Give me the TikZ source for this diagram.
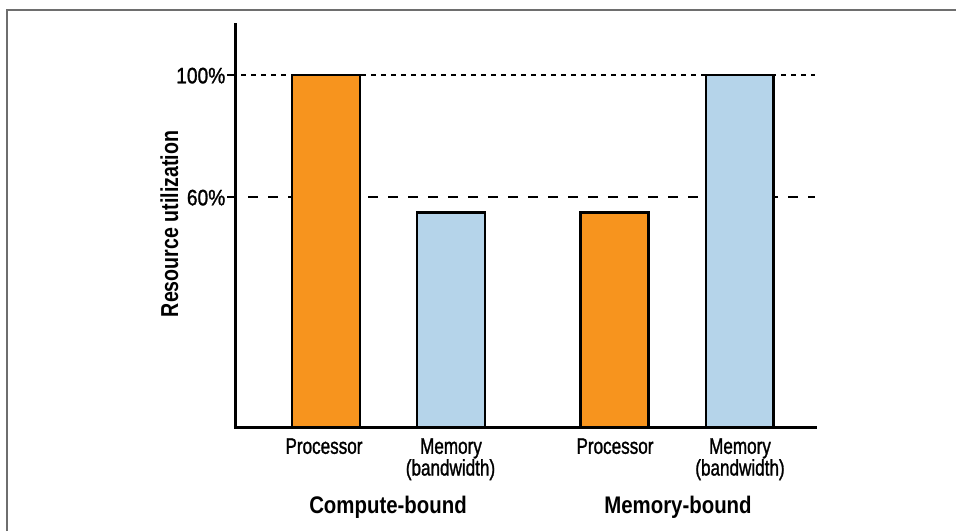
\documentclass[tikz,border=0pt]{standalone}
\usepackage{fontspec}
\setmainfont{Liberation Sans}[FakeStretch=0.8]
\newfontfamily\lblfont{Liberation Sans}[FakeStretch=0.76,FakeBold=1.2]
\newfontfamily\numfont{Liberation Sans}[FakeStretch=0.86,FakeBold=1.2]
\newfontfamily\grpfont{Liberation Sans}[FakeStretch=0.85]
\definecolor{barorange}{HTML}{F7941E}
\definecolor{barblue}{HTML}{B5D4EA}
\definecolor{framegray}{HTML}{6E6E6E}
\begin{document}
\begin{tikzpicture}[x=1pt,y=-1pt,
  bar/.style={draw=black,line width=2.2pt},
  axisline/.style={draw=black,line width=3.5pt},
  lbl/.style={font=\lblfont\fontsize{22.5}{24}\selectfont,inner sep=0pt,anchor=base},
  num/.style={font=\numfont\fontsize{22.3}{24}\selectfont,inner sep=0pt,anchor=base east},
  grp/.style={font=\grpfont\fontsize{24}{26}\selectfont\bfseries,inner sep=0pt,anchor=base},
  refdot/.style={line width=2pt,dash pattern=on 5pt off 5pt},
  refdash/.style={line width=2.4pt,dash pattern=on 10pt off 10pt}]
\useasboundingbox (0,0) rectangle (956,531);
% frame
\draw[framegray,line width=2pt] (6.5,531) -- (6.5,9.5) -- (956,9.5);
% reference lines
\coordinate (d1) at (241,75);
\coordinate (d2) at (815,75);
\coordinate (h1) at (248,197);
\coordinate (h2) at (815,197);
\draw[refdot] (d1) -- (d2);
\draw[refdash] (h1) -- (h2);
% bars
\path[bar,fill=barorange] (292,75) rectangle (360,427);
\path[bar,fill=barblue] (417,212.5) rectangle (485,427);
\path[bar,fill=barorange] (580.5,212.5) rectangle (648.5,427);
\path[bar,fill=barblue] (706,75) rectangle (773.5,427);
% axes
\coordinate (ytop) at (235.5,23);
\coordinate (orig) at (235.5,427.5);
\coordinate (xend) at (817,427.5);
\draw[axisline] (ytop) -- (orig.center) ++(-1.75,0) -- (xend);
\draw[line width=2.4pt] (227,75) -- (235,75);
\draw[line width=2.4pt] (227,197) -- (235,197);
% tick labels
\node[num] (t100) at (225.5,83.3) {100\%};
\node[num] (t60) at (225.5,205.3) {60\%};
\node[lbl,rotate=90,font=\rmfamily\fontsize{24.5}{26}\selectfont\bfseries] (ylab) at (178,224) {Resource utilization};
% bar labels
\node[lbl] (p1) at (324,453.8) {Processor};
\node[lbl] (m1) at (451,453.8) {Memory};
\node[lbl] (b1) at (450.5,475.5) {(bandwidth)};
\node[lbl] (p2) at (615,453.8) {Processor};
\node[lbl] (m2) at (740,453.8) {Memory};
\node[lbl] (b2) at (740,475.5) {(bandwidth)};
\node[grp] (g1) at (388,513) {Compute-bound};
\node[grp] (g2) at (678,513) {Memory-bound};
\end{tikzpicture}
\end{document}
